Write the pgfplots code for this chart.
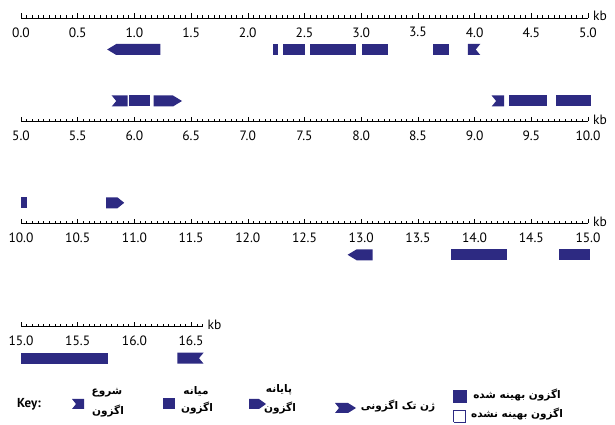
\documentclass[border=0pt]{standalone}
\usepackage{fontspec}
\usepackage{pgfplots}
\pgfplotsset{compat=1.18}
\setmainfont{PT Sans}
\newfontfamily\fa[Script=Arabic]{DejaVu Sans}
\TeXXeTstate=1
\definecolor{exon}{RGB}{45,42,130}

\pgfplotsset{
  ruler/.style={
    scale only axis, width=#1, height=30pt,
    ymin=0, ymax=30,
    enlargelimits=false, clip=false,
    axis x line=bottom, axis y line=none,
    axis line style={-, line width=0.6pt, black},
    xtick distance=0.5, minor x tick num=9,
    tick align=inside,
    major tick length=4.5pt, minor tick length=2.5pt,
    tick style={black, line width=0.5pt},
    /pgf/number format/assume math mode=true,
    xticklabel={\pgfmathprintnumber[fixed,fixed zerofill,precision=1]{\tick}},
    xticklabel style={font=\fontsize{13.5}{15}\selectfont, yshift=-6pt},
  },
  exon/.style={fill=exon, draw=none, no markers},
}
\tikzset{faword/.style={font=\fa\bfseries\fontsize{10.5}{13}\selectfont}}
\newcommand{\kb}{\node[anchor=base west, font=\fontsize{13.5}{15}\selectfont, inner sep=0pt, yshift=-3pt] at (rel axis cs:1,0) {\hspace{5pt}kb};}

\begin{document}
\begin{tikzpicture}
\useasboundingbox (0,0) rectangle (615pt,425pt);

% ---- 0.0 - 5.0 kb ----
\begin{axis}[ruler=567pt, xmin=0, xmax=5, at={(21pt,407pt)}, anchor=south west]
\addplot[exon] coordinates {(1.23,-37) (0.84,-37) (0.76,-31.5) (0.84,-26) (1.23,-26)};
\addplot[exon] coordinates {(2.22,-37) (2.27,-37) (2.27,-26) (2.22,-26)};
\addplot[exon] coordinates {(2.31,-37) (2.50,-37) (2.50,-26) (2.31,-26)};
\addplot[exon] coordinates {(2.55,-37) (2.95,-37) (2.95,-26) (2.55,-26)};
\addplot[exon] coordinates {(3.01,-37) (3.24,-37) (3.24,-26) (3.01,-26)};
\addplot[exon] coordinates {(3.63,-37) (3.77,-37) (3.77,-26) (3.63,-26)};
\addplot[exon] coordinates {(3.94,-37) (4.05,-37) (4.01,-31.5) (4.05,-26) (3.94,-26)};
\kb
\end{axis}

% ---- 5.0 - 10.0 kb ----
\begin{axis}[ruler=567pt, xmin=5, xmax=10, at={(21pt,303.5pt)}, anchor=south west]
\addplot[exon] coordinates {(5.80,15) (5.94,15) (5.94,26) (5.80,26) (5.84,20.5)};
\addplot[exon] coordinates {(5.95,15) (6.14,15) (6.14,26) (5.95,26)};
\addplot[exon] coordinates {(6.17,15) (6.34,15) (6.42,20.5) (6.34,26) (6.17,26)};
\addplot[exon] coordinates {(9.15,15) (9.26,15) (9.26,26) (9.15,26) (9.19,20.5)};
\addplot[exon] coordinates {(9.30,15) (9.64,15) (9.64,26) (9.30,26)};
\addplot[exon] coordinates {(9.72,15) (10.03,15) (10.03,26) (9.72,26)};
\kb
\end{axis}

% ---- 10.0 - 15.0 kb ----
\begin{axis}[ruler=567pt, xmin=10, xmax=15, at={(21pt,201.7pt)}, anchor=south west]
\addplot[exon] coordinates {(10.00,15) (10.05,15) (10.05,26) (10.00,26)};
\addplot[exon] coordinates {(10.75,15) (10.85,15) (10.91,20.5) (10.85,26) (10.75,26)};
\addplot[exon] coordinates {(13.10,-37) (12.96,-37) (12.88,-31.5) (12.96,-26) (13.10,-26)};
\addplot[exon] coordinates {(13.79,-37) (14.29,-37) (14.29,-26) (13.79,-26)};
\addplot[exon] coordinates {(14.74,-37) (15.02,-37) (15.02,-26) (14.74,-26)};
\kb
\end{axis}

% ---- 15.0 - 16.6 kb ----
\begin{axis}[ruler=181.44pt, xmin=15, xmax=16.6, at={(21pt,98.3pt)}, anchor=south west,
  minor xtick={15.05,15.1,15.15,15.2,15.25,15.3,15.35,15.4,15.45,15.55,15.6,15.65,15.7,15.75,15.8,15.85,15.9,15.95,16.05,16.1,16.15,16.2,16.25,16.3,16.35,16.4,16.45,16.55,16.6}]
\addplot[exon] coordinates {(15.00,-37) (15.77,-37) (15.77,-26) (15.00,-26)};
\addplot[exon] coordinates {(16.38,-37) (16.61,-37) (16.57,-31.5) (16.61,-26) (16.38,-26)};
\kb
\end{axis}

% ---- key ----
\begin{axis}[scale only axis, width=615pt, height=425pt, at={(0pt,0pt)}, anchor=south west,
  xmin=0, xmax=615, ymin=0, ymax=425, hide axis, clip=false]
\addplot[exon] coordinates {(72,16) (84,16) (84,26) (72,26) (76,21)};
\addplot[exon] coordinates {(163,16) (175,16) (175,27) (163,27)};
\addplot[exon] coordinates {(249,16) (259,16) (266,21) (259,26) (249,26)};
\addplot[exon] coordinates {(335,12) (348,12) (356,17) (348,22) (335,22) (339,17)};
\addplot[exon] coordinates {(453,22) (467,22) (467,35) (453,35)};
\addplot[draw=exon, line width=1pt, fill=white, no markers] coordinates {(453.5,2.5) (465.5,2.5) (465.5,14.5) (453.5,14.5) (453.5,2.5)};
\node[font=\bfseries\fontsize{13}{15}\selectfont] at (axis cs:29,21) {Key:};
\node[faword] at (axis cs:107,32) {\beginR شروع\endR};
\node[faword] at (axis cs:108,14) {\beginR اگزون\endR};
\node[faword] at (axis cs:196,34) {\beginR میانه\endR};
\node[faword] at (axis cs:197,17) {\beginR اگزون\endR};
\node[faword] at (axis cs:279,35) {\beginR پایانه\endR};
\node[faword] at (axis cs:280,17) {\beginR اگزون\endR};
\node[faword] at (axis cs:398,19) {\beginR ژن تک اگزونی\endR};
\node[faword] at (axis cs:517,30) {\beginR اگزون بهینه شده\endR};
\node[faword] at (axis cs:517,11) {\beginR اگزون بهینه نشده\endR};
\end{axis}
\end{tikzpicture}
\end{document}
